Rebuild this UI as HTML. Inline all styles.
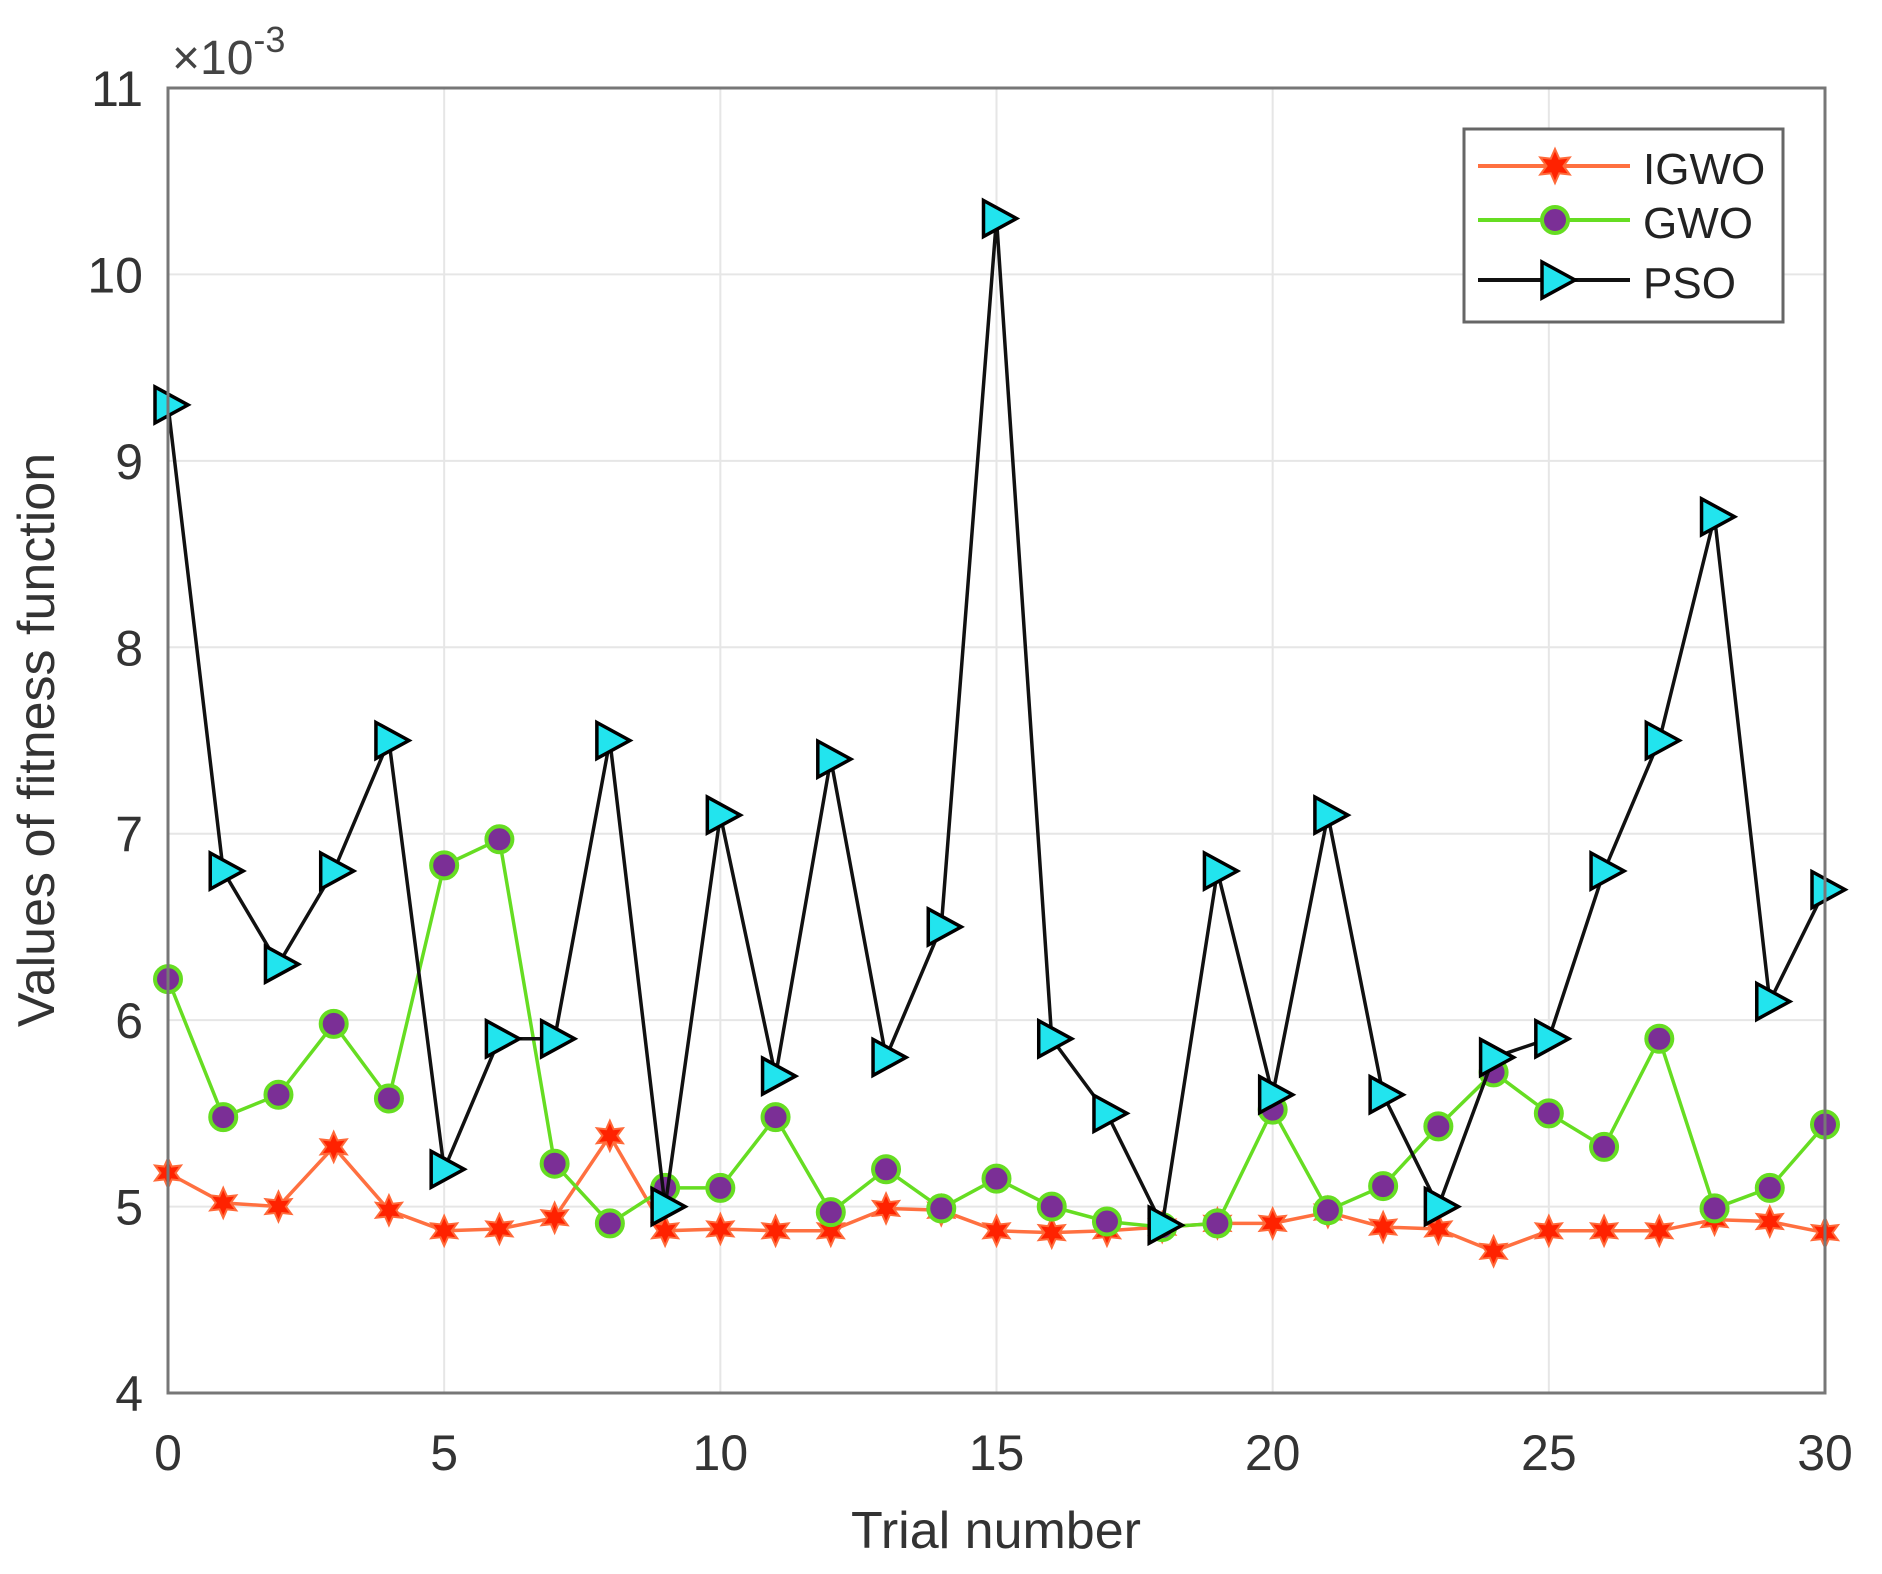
<!DOCTYPE html>
<html><head><meta charset="utf-8"><style>
html,body{margin:0;padding:0;background:#fff;}
svg{display:block;font-family:"Liberation Sans",Arial,sans-serif;}
</style></head><body>
<svg id="chart" width="1882" height="1574" viewBox="0 0 1882 1574">
<g id="grid"></g>
<g id="series"></g>
<rect x="168" y="88" width="1657" height="1305" fill="none" stroke="#777" stroke-width="3"/>
<g id="ticks"></g>
<text x="172" y="74" font-size="48" fill="#444">×10<tspan font-size="36" dy="-22">-3</tspan></text>
<text x="996" y="1548" font-size="52" fill="#333" text-anchor="middle">Trial number</text>
<text transform="translate(54,740) rotate(-90)" font-size="52" fill="#333" text-anchor="middle">Values  of fitness function</text>
<g id="legend">
<rect x="1464" y="129" width="319" height="193" fill="#fff" stroke="#666" stroke-width="3"/>
</g>
</svg>
<script>
const trials = [0,1,2,3,4,5,6,7,8,9,10,11,12,13,14,15,16,17,18,19,20,21,22,23,24,25,26,27,28,29,30];
const igwo = [5.18,5.02,5.0,5.32,4.98,4.87,4.88,4.94,5.38,4.87,4.88,4.87,4.87,4.99,4.98,4.87,4.86,4.87,4.89,4.91,4.91,4.97,4.89,4.88,4.76,4.87,4.87,4.87,4.93,4.92,4.86];
const gwo = [6.22,5.48,5.6,5.98,5.58,6.83,6.97,5.23,4.91,5.1,5.1,5.48,4.97,5.2,4.99,5.15,5.0,4.92,4.89,4.91,5.52,4.98,5.11,5.43,5.72,5.5,5.32,5.9,4.99,5.1,5.44];
const pso = [9.3,6.8,6.3,6.8,7.5,5.2,5.9,5.9,7.5,5.0,7.1,5.7,7.4,5.8,6.5,10.3,5.9,5.5,4.9,6.8,5.6,7.1,5.6,5.0,5.8,5.9,6.8,7.5,8.7,6.1,6.7];
const xTicks = [0,5,10,15,20,25,30];
const yTicks = [4,5,6,7,8,9,10,11];
const NS='http://www.w3.org/2000/svg';
const L=168,R=1825,T=88,B=1393;
const sx=v=>L+(v-0)/(30-0)*(R-L);
const sy=v=>B-(v-4)/(11-4)*(B-T);
function mk(tag,attrs,parent){const e=document.createElementNS(NS,tag);for(const k in attrs)e.setAttribute(k,attrs[k]);parent.appendChild(e);return e;}
const grid=document.getElementById('grid'),ticks=document.getElementById('ticks'),ser=document.getElementById('series'),leg=document.getElementById('legend');
xTicks.forEach(t=>{
  const g=mk('line',{x1:sx(t),x2:sx(t),y1:T,y2:B,stroke:'#e6e6e6','stroke-width':2},grid);
  
  
  const tx=mk('text',{x:sx(t),y:1470,'font-size':50,fill:'#333','text-anchor':'middle'},ticks);
  tx.textContent=t;
  
  
});
yTicks.forEach(t=>{
  const g=mk('line',{x1:L,x2:R,y1:sy(t),y2:sy(t),stroke:'#e6e6e6','stroke-width':2},grid);
  
  
  const tx=mk('text',{x:143,y:sy(t)+18,'font-size':50,fill:'#333','text-anchor':'end'},ticks);
  tx.textContent=t;
  
  
});
function star(cx,cy,r,parent){
  let p='';for(let i=0;i<12;i++){const rr=i%2?r*0.5:r;const a=Math.PI/6*i-Math.PI/2;p+=(cx+rr*Math.cos(a))+','+(cy+rr*Math.sin(a))+' ';}
  return mk('polygon',{points:p,fill:'#ff2200',stroke:'#ff6a3a','stroke-width':2},parent);
}
function circ(cx,cy,parent){return mk('circle',{cx:cx,cy:cy,r:13,fill:'#7b2f96',stroke:'#66dd22','stroke-width':4},parent);}
function tri(cx,cy,parent){return mk('polygon',{points:(cx-13)+','+(cy-18)+' '+(cx+20)+','+cy+' '+(cx-13)+','+(cy+18),fill:'#22e4ee',stroke:'#000','stroke-width':3.5,'stroke-linejoin':'miter'},parent);}
function drawSeries(vals,color,marker,name){
  const pts=vals.map((v,i)=>sx(trials[i])+','+sy(v)).join(' ');
  const pl=mk('polyline',{points:pts,fill:'none',stroke:color,'stroke-width':3.5},ser);
  
  
  vals.forEach((v,i)=>{
    const m=marker(sx(trials[i]),sy(v),ser);
    
    
  });
}
drawSeries(igwo,'#ff7040',(x,y,p)=>star(x,y,15,p),'igwo');
drawSeries(gwo,'#66dd22',circ,'gwo');
drawSeries(pso,'#111',tri,'pso');
const legItems=[['IGWO','#ff7040',(x,y,p)=>star(x,y,17,p),172],['GWO','#66dd22',circ,226],['PSO','#111',tri,286]];
legItems.forEach(([lab,col,m,y])=>{
  const ln=mk('line',{x1:1478,x2:1630,y1:y-6,y2:y-6,stroke:col,'stroke-width':4},leg);
  
  
  const mm=m(1555,y-6,leg);
  
  
  const tx=mk('text',{x:1643,y:y+12,'font-size':44,fill:'#222'},leg);
  tx.textContent=lab;
  
  
});
</script>
</body></html>
